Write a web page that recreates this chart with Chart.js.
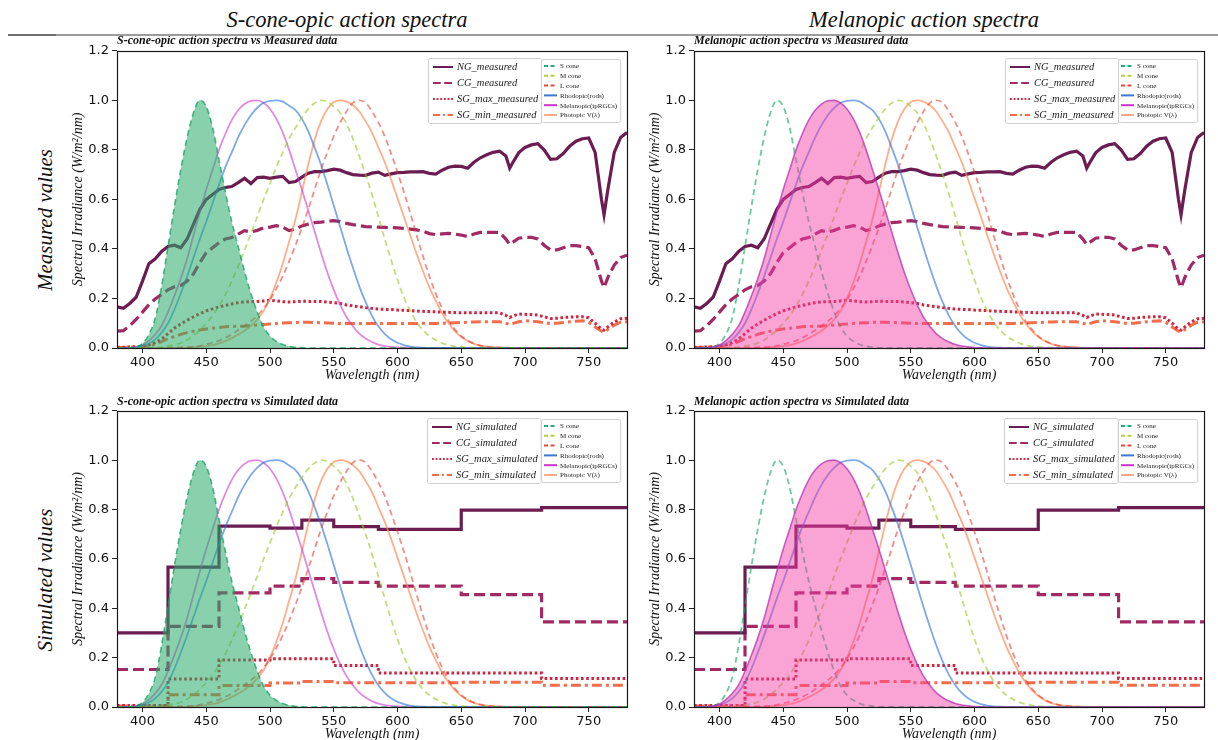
<!DOCTYPE html>
<html><head><meta charset="utf-8">
<script src="https://cdn.jsdelivr.net/npm/chart.js@4.4.1/dist/chart.umd.min.js"></script>
<style>
html,body{margin:0;padding:0;background:#fff;overflow:hidden;}
#wrap{position:relative;width:1218px;height:740px;overflow:hidden;background:#fff;}
canvas{position:absolute;}
.t{position:absolute;font-family:"Liberation Serif","DejaVu Serif",serif;color:#111;white-space:nowrap;}
.col{font-size:22.5px;font-style:italic;transform:translate(-50%,-50%);}
.row{font-size:21px;font-style:italic;transform:translate(-50%,-50%) rotate(-90deg);}
.sub{font-size:12px;font-style:italic;font-weight:bold;}
.rule{position:absolute;height:2px;background:#9c9c9c;z-index:5;}
</style></head><body>
<div id="wrap">
  <canvas id="c1" width="570" height="345" style="left:65px;top:40px;"></canvas>
  <canvas id="c2" width="570" height="345" style="left:642px;top:40px;"></canvas>
  <canvas id="c3" width="570" height="352" style="left:65px;top:400px;"></canvas>
  <canvas id="c4" width="570" height="352" style="left:642px;top:400px;"></canvas>
  <div class="rule" style="left:8px;top:34px;width:1210px;"></div>
  <div class="rule" style="left:8px;top:34px;width:48px;background:#707070;"></div>
  <div class="t col" style="left:347px;top:20px;">S-cone-opic action spectra</div>
  <div class="t col" style="left:924px;top:20px;">Melanopic action spectra</div>
  <div class="t row" style="left:45px;top:220px;">Measured values</div>
  <div class="t row" style="left:45px;top:580px;">Simulated values</div>
  <div class="t sub" style="left:117px;top:33px;">S-cone-opic action spectra vs Measured data</div>
  <div class="t sub" style="left:694px;top:33px;">Melanopic action spectra vs Measured data</div>
  <div class="t sub" style="left:117px;top:394px;">S-cone-opic action spectra vs Simulated data</div>
  <div class="t sub" style="left:694px;top:394px;">Melanopic action spectra vs Simulated data</div>
</div>
<script>
// ---------- tick labels ----------
const xTicks = [400, 450, 500, 550, 600, 650, 700, 750];
const yTicks = [0, 0.2, 0.4, 0.6, 0.8, 1.0, 1.2];

// ---------- measured spectra ----------
const measWl = [
380,385,390,395,400,405,410,415,420,425,
430,435,440,445,450,455,460,465,470,475,
480,485,490,495,500,505,510,515,520,525,
530,535,540,545,550,555,560,565,570,575,
580,585,590,595,600,605,610,615,620,625,
630,635,640,645,650,655,660,665,670,675,
680,685,688,690,695,700,705,710,715,720,
725,730,735,740,745,750,755,760,762,765,
770,775,780];
const ngMeasured = [
.166,.160,.180,.205,.270,.340,.360,.390,.410,.415,
.405,.440,.500,.560,.600,.620,.640,.648,.652,.668,
.685,.664,.688,.690,.685,.690,.693,.668,.672,.690,
.706,.712,.712,.716,.722,.718,.708,.700,.698,.697,
.706,.710,.697,.703,.708,.709,.711,.711,.712,.705,
.702,.718,.730,.734,.733,.726,.750,.768,.780,.790,
.795,.775,.726,.745,.788,.810,.820,.825,.800,.762,
.764,.785,.815,.835,.845,.848,.790,.600,.538,.640,
.790,.850,.870];
const cgMeasured = [
.068,.070,.090,.115,.145,.175,.198,.216,.235,.247,
.252,.270,.300,.345,.385,.405,.425,.440,.446,.460,
.474,.468,.475,.485,.488,.494,.488,.474,.480,.493,
.500,.506,.508,.511,.514,.510,.503,.498,.494,.490,
.489,.488,.487,.486,.485,.483,.480,.477,.472,.462,
.458,.461,.463,.460,.456,.450,.460,.467,.467,.467,
.467,.440,.418,.425,.443,.447,.447,.440,.415,.396,
.396,.405,.413,.413,.410,.405,.360,.270,.244,.285,
.335,.365,.375];
const sgMaxMeasured = [
.003,.003,.004,.005,.007,.012,.022,.036,.058,.080,
.097,.112,.126,.139,.150,.158,.166,.172,.178,.183,
.186,.187,.188,.190,.193,.190,.187,.186,.187,.189,
.188,.188,.188,.186,.183,.180,.174,.170,.167,.163,
.160,.157,.156,.155,.153,.152,.151,.149,.148,.147,
.146,.145,.144,.143,.142,.142,.142,.142,.142,.142,
.142,.132,.123,.128,.137,.136,.135,.133,.126,.119,
.120,.123,.125,.126,.126,.122,.100,.075,.072,.085,
.105,.118,.120];
const sgMinMeasured = [
.002,.002,.003,.004,.005,.008,.015,.026,.037,.046,
.055,.062,.068,.073,.077,.080,.083,.086,.087,.088,
.088,.090,.093,.095,.097,.099,.101,.102,.103,.104,
.104,.103,.102,.101,.100,.099,.099,.099,.099,.099,
.099,.099,.099,.099,.099,.099,.099,.099,.100,.099,
.099,.100,.101,.102,.103,.104,.105,.106,.106,.106,
.106,.100,.095,.098,.106,.110,.108,.106,.102,.099,
.100,.103,.106,.108,.110,.104,.085,.068,.065,.075,
.092,.104,.106];

// ---------- simulated (band) spectra ----------
const simEdges = [380, 420, 460, 500, 525, 550, 585, 650, 713, 780];
const ngSimulated    = [0.300, 0.567, 0.733, 0.725, 0.757, 0.731, 0.720, 0.798, 0.808];
const cgSimulated    = [0.152, 0.327, 0.462, 0.490, 0.520, 0.505, 0.490, 0.455, 0.345];
const sgMaxSimulated = [0.006, 0.113, 0.190, 0.195, 0.195, 0.168, 0.138, 0.138, 0.115];
const sgMinSimulated = [0.004, 0.050, 0.087, 0.097, 0.103, 0.098, 0.098, 0.100, 0.088];

// ---------- action spectra ----------
const sConeWl  = [380,390,395,400,405,410,415,420,425,430,435,440,445,450,455,460,465,470,475,480,485,490,495,500,505,510,515,520,530,780];
const sConeVal = [0,0,.004,.018,.055,.12,.25,.41,.57,.72,.85,.95,1.0,.975,.89,.76,.63,.51,.41,.31,.22,.145,.085,.048,.027,.014,.007,.003,0,0];
const mConeWl  = [380,410,420,430,435,440,445,450,455,460,465,470,475,480,485,490,495,500,505,510,515,520,525,530,535,540,545,550,555,560,565,570,575,580,585,590,595,600,605,610,615,620,625,630,635,640,645,650,660,670,780];
const mConeVal = [0,0,.008,.02,.032,.05,.072,.10,.13,.17,.215,.27,.33,.395,.46,.53,.60,.665,.73,.79,.845,.89,.93,.965,.988,1.0,.995,.975,.95,.905,.845,.775,.70,.62,.53,.44,.355,.275,.205,.15,.105,.072,.048,.032,.02,.012,.007,.004,.001,0,0];
const lConeWl  = [380,440,450,460,470,480,490,495,500,505,510,515,520,525,530,535,540,545,550,555,560,565,570,575,580,585,590,595,600,605,610,615,620,625,630,635,640,645,650,655,660,665,670,680,690,780];
const lConeVal = [0,.005,.015,.03,.055,.09,.13,.16,.195,.24,.29,.35,.415,.485,.56,.64,.72,.79,.855,.91,.955,.99,1.0,.99,.955,.91,.855,.785,.71,.63,.545,.455,.37,.29,.22,.16,.11,.075,.048,.03,.018,.01,.005,.001,0,0];
const rhoWl    = [380,390,395,400,405,410,415,420,425,430,435,440,445,450,455,460,465,470,475,480,485,490,495,500,505,510,515,520,525,530,535,540,545,550,555,560,565,570,575,580,585,590,595,600,605,610,620,630,780];
const rhoVal   = [0,0,.003,.008,.018,.035,.062,.10,.155,.22,.29,.365,.44,.51,.585,.66,.73,.79,.85,.90,.94,.97,.99,.998,1.0,.995,.978,.96,.925,.875,.81,.74,.66,.575,.49,.405,.325,.25,.185,.13,.088,.057,.035,.021,.012,.006,.001,0,0];
const melWl    = [380,390,395,400,405,410,415,420,425,430,435,440,445,450,455,460,465,470,475,480,485,490,495,500,505,510,515,520,525,530,535,540,545,550,555,560,565,570,575,580,585,590,600,610,780];
const melVal   = [0,0,.004,.012,.03,.055,.09,.145,.21,.28,.36,.455,.55,.64,.72,.80,.865,.92,.96,.985,.998,1.0,.99,.965,.925,.87,.80,.72,.64,.555,.47,.385,.305,.235,.175,.125,.088,.058,.038,.024,.014,.008,.002,0,0];
const phoWl    = [380,430,440,450,460,465,470,475,480,485,490,495,500,505,510,515,520,525,530,535,540,545,550,555,560,565,570,575,580,585,590,595,600,605,610,615,620,625,630,635,640,645,650,655,660,665,670,680,690,780];
const phoVal   = [0,0,.003,.008,.018,.028,.04,.054,.07,.09,.115,.15,.20,.265,.34,.43,.52,.63,.74,.84,.915,.965,.993,1.0,.995,.98,.955,.915,.87,.81,.75,.68,.605,.53,.455,.38,.31,.245,.19,.14,.10,.068,.045,.028,.017,.01,.006,.002,0,0];

const measLabels = ['NG_measured', 'CG_measured', 'SG_max_measured', 'SG_min_measured'];
const simLabels  = ['NG_simulated', 'CG_simulated', 'SG_max_simulated', 'SG_min_simulated'];
const specLabels = ['S cone', 'M cone', 'L cone', 'Rhodopic(rods)', 'Melanopic(ipRGCs)', 'Photopic V(\u03bb)'];

// ---------- helpers ----------
function pts(xs, ys) { return xs.map((x, i) => ({ x: x, y: ys[i] })); }
function stepPts(edges, vals) { return edges.map((x, i) => ({ x: x, y: vals[Math.min(i, vals.length - 1)] })); }

const groundStyles = [
  { color: '#6b1d52', dash: [], width: 3.2 },
  { color: '#a12a62', dash: [11, 5], width: 3.2 },
  { color: '#d0243f', dash: [2.6, 2.6], width: 3 },
  { color: '#f26d4b', dash: [10, 4, 3, 4], width: 3 }
];
const specStyles = [
  { color: 'rgba(20,170,100,0.62)', legend: '#22b07a', dash: [6, 4] },
  { color: 'rgba(154,200,40,0.6)', legend: '#b5cf3a', dash: [6, 4] },
  { color: 'rgba(230,50,40,0.55)', legend: '#e6463c', dash: [6, 4] },
  { color: 'rgba(40,110,220,0.6)', legend: '#3a7bd8', dash: [] },
  { color: 'rgba(200,40,200,0.55)', legend: '#cc33cc', dash: [] },
  { color: 'rgba(255,140,90,0.7)', legend: '#ffaa88', dash: [] }
];

function buildDatasets(groundSeries, groundLabels, stepped, fillIndex) {
  const ds = [];
  groundSeries.forEach((data, i) => {
    const s = groundStyles[i];
    ds.push({
      label: groundLabels[i], group: 1, data: data, stepped: stepped,
      borderColor: s.color, legendColor: s.color, borderDash: s.dash, borderWidth: s.width,
      pointRadius: 0, fill: false, order: 5, borderCapStyle: 'butt'
    });
  });
  const specData = [pts(sConeWl, sConeVal), pts(mConeWl, mConeVal), pts(lConeWl, lConeVal),
                    pts(rhoWl, rhoVal), pts(melWl, melVal), pts(phoWl, phoVal)];
  specData.forEach((data, i) => {
    const s = specStyles[i];
    const isFill = i === fillIndex;
    let color = s.color, bg = 'transparent';
    if (isFill && i === 0) { color = 'rgba(20,160,95,0.75)'; bg = 'rgba(40,172,105,0.55)'; }
    if (isFill && i === 4) { color = 'rgba(180,50,180,0.75)'; bg = 'rgba(245,60,165,0.47)'; }
    ds.push({
      label: specLabels[i], group: 2, data: data,
      borderColor: color, legendColor: s.legend, borderDash: s.dash, borderWidth: isFill ? 1.6 : 1.8,
      backgroundColor: bg, fill: isFill ? 'origin' : false,
      pointRadius: 0, cubicInterpolationMode: 'monotone', order: isFill ? 0 : 3
    });
  });
  return ds;
}

const frame = {
  id: 'frame',
  afterDatasetsDraw(chart) {
    const ctx = chart.ctx, a = chart.chartArea;
    ctx.save();
    ctx.strokeStyle = '#1a1a1a';
    ctx.lineWidth = 1.2;
    ctx.strokeRect(Math.round(a.left) + 0.5, Math.round(a.top) + 0.5, Math.round(a.right - a.left), Math.round(a.bottom - a.top));
    ctx.restore();
  }
};

const dualLegend = {
  id: 'dualLegend',
  afterDraw(chart) {
    const ctx = chart.ctx, a = chart.chartArea;
    const ds = chart.data.datasets;
    const g1 = ds.filter(d => d.group === 1), g2 = ds.filter(d => d.group === 2);
    ctx.save();
    const f2 = '7px "Liberation Serif", serif';
    const f1 = 'italic 10.5px "Liberation Serif", serif';
    ctx.font = f2;
    const w2 = 18 + Math.max(...g2.map(d => ctx.measureText(d.label).width)) + 4;
    ctx.font = f1;
    const w1 = 29 + Math.max(...g1.map(d => ctx.measureText(d.label).width)) + 3;
    const x2 = Math.round(a.right - 7 - w2), y2 = Math.round(a.top + 8), h2 = 63;
    const x1 = Math.round(x2 - w1), y1 = Math.round(a.top + 7), h1 = 65;
    function box(x, y, w, h) {
      ctx.beginPath();
      if (ctx.roundRect) ctx.roundRect(x + 0.5, y + 0.5, w, h, 2); else ctx.rect(x + 0.5, y + 0.5, w, h);
      ctx.fillStyle = 'rgba(255,255,255,0.85)';
      ctx.fill();
      ctx.strokeStyle = '#cfcfcf';
      ctx.lineWidth = 1;
      ctx.stroke();
    }
    box(x1, y1, w1, h1);
    box(x2, y2, w2, h2);
    ctx.textBaseline = 'middle';
    g1.forEach((d, i) => {
      const y = y1 + 9 + i * 16;
      ctx.beginPath();
      ctx.setLineDash(d.borderDash.map(v => v * 0.7));
      ctx.strokeStyle = d.legendColor; ctx.lineWidth = 2;
      ctx.moveTo(x1 + 5, y); ctx.lineTo(x1 + 25, y); ctx.stroke();
      ctx.setLineDash([]);
      ctx.fillStyle = '#222'; ctx.font = f1;
      ctx.fillText(d.label, x1 + 29, y + 0.5);
    });
    g2.forEach((d, i) => {
      const y = y2 + 7 + i * 9.8;
      ctx.beginPath();
      ctx.setLineDash(d.borderDash.length ? [4, 2.5] : []);
      ctx.strokeStyle = d.legendColor; ctx.lineWidth = 2;
      ctx.moveTo(x2 + 3, y); ctx.lineTo(x2 + 16, y); ctx.stroke();
      ctx.setLineDash([]);
      ctx.fillStyle = '#222'; ctx.font = f2;
      ctx.fillText(d.label, x2 + 19, y + 0.5);
    });
    ctx.restore();
  }
};

function makeChart(id, datasets, padTop, xAxisH, xTitlePad) {
  return new Chart(document.getElementById(id), {
    type: 'line',
    data: { datasets: datasets },
    options: {
      responsive: false, animation: false, devicePixelRatio: 1,
      layout: { padding: { top: padTop, right: 8, bottom: 0, left: 0 } },
      plugins: { legend: { display: false }, tooltip: { enabled: false }, title: { display: false } },
      elements: { line: { tension: 0 } },
      scales: {
        x: {
          type: 'linear', min: 380, max: 780,
          afterBuildTicks: s => { s.ticks = xTicks.map(v => ({ value: v })); },
          afterFit: s => { s.height = xAxisH; },
          grid: { drawOnChartArea: false, drawTicks: true, tickLength: 5, color: '#222', lineWidth: 1 },
          border: { display: false },
          ticks: { font: { family: 'DejaVu Sans', size: 13 }, color: '#111', padding: 2, maxRotation: 0 },
          title: { display: true, text: 'Wavelength (nm)', color: '#111',
                   font: { family: 'Liberation Serif', size: 14, style: 'italic' },
                   padding: { top: 0, bottom: xTitlePad } }
        },
        y: {
          type: 'linear', min: 0, max: 1.2,
          afterBuildTicks: s => { s.ticks = yTicks.map(v => ({ value: v })); },
          afterFit: s => { s.width = 52; },
          grid: { drawOnChartArea: false, drawTicks: true, tickLength: 5, color: '#222', lineWidth: 1 },
          border: { display: false },
          ticks: { font: { family: 'DejaVu Sans', size: 13 }, color: '#111', padding: 3, callback: v => v.toFixed(1) },
          title: { display: true, text: 'Spectral Irradiance (W/m\u00b2/nm)', color: '#111',
                   font: { family: 'Liberation Serif', size: 14, style: 'italic' },
                   padding: { top: 5, bottom: 0 } }
        }
      }
    },
    plugins: [frame, dualLegend]
  });
}

const measuredSeries = [pts(measWl, ngMeasured), pts(measWl, cgMeasured), pts(measWl, sgMaxMeasured), pts(measWl, sgMinMeasured)];
const simulatedSeries = [stepPts(simEdges, ngSimulated), stepPts(simEdges, cgSimulated), stepPts(simEdges, sgMaxSimulated), stepPts(simEdges, sgMinSimulated)];

makeChart('c1', buildDatasets(measuredSeries, measLabels, false, 0), 7, 37, 1.6);
makeChart('c2', buildDatasets(measuredSeries, measLabels, false, 4), 7, 37, 1.6);
makeChart('c3', buildDatasets(simulatedSeries, simLabels, true, 0), 8, 45, 9.6);
makeChart('c4', buildDatasets(simulatedSeries, simLabels, true, 4), 8, 45, 9.6);
</script>
</body></html>
